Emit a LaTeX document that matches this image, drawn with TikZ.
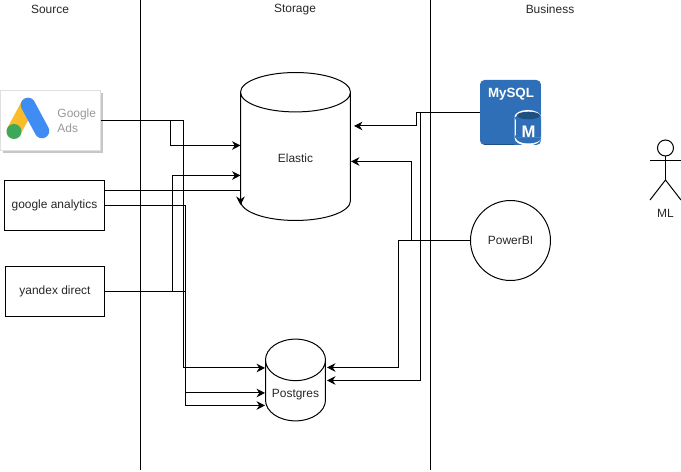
\documentclass[tikz,border=0pt]{standalone}
\usepackage{fontspec}
\setmainfont{Liberation Sans}
\usetikzlibrary{arrows.meta,positioning,shapes.geometric}
\definecolor{adsblue}{HTML}{3F8CF3}
\definecolor{adsyellow}{HTML}{FBBC2C}
\definecolor{adsgreen}{HTML}{3DA85A}
\definecolor{sqlblue}{HTML}{2E6FB7}
\definecolor{sqldark}{HTML}{1D4F80}

\begin{document}
\begin{tikzpicture}[x=0.02cm,y=-0.02cm,>={Stealth[length=4.8pt,width=4.8pt]},
 line width=0.567pt,
 every node/.style={font=\fontsize{6.8pt}{8.6pt}\selectfont,inner sep=0pt,text=black!85},
 source/.style={draw,minimum width=2cm,minimum height=1cm,align=center},
 store/.style={draw,cylinder,shape border rotate=90,anchor=shape center},
 conn/.style={->}]
\useasboundingbox (0,0) rectangle (681,472);

% columns
\coordinate (srctop) at (140.5,0); \coordinate (srcbot) at (140.5,470);
\coordinate (biztop) at (430.5,0); \coordinate (bizbot) at (430.5,470);
\draw (srctop)--(srcbot); \draw (biztop)--(bizbot);
\node (source) at (50,9.5) {Source};
\node (storage) at (295,10) {Storage};
\node (business) at (550,9.5) {Business};

% google ads card
\fill[black!22] (3,93) rectangle (103,153);
\node[draw=black!12,fill=white,minimum width=2cm,minimum height=1.2cm] (ads) at (50.5,120.5) {};
\node[text=black!40,align=left,anchor=west,font=\fontsize{6.8pt}{8.6pt}\selectfont] (adstext) at (57,120.5) {Google\\Ads};
\draw[adsyellow,line width=8.3pt,line cap=round] (14,131)--(28,105);
\draw[adsblue,line width=8.3pt,line cap=round] (28,105)--(42,131);
\fill[adsgreen] (14,131.5) circle (7.5);

\node[source] (analytics) at (54.5,205.5) {google analytics};
\node[source] (yandex) at (55,291.5) {yandex direct};

\node[store,minimum width=2.2cm,minimum height=2.96cm,shape aspect=1.12,text height=7.2pt] (elastic) at (295.5,146.5) {Elastic};
\node[store,minimum width=1.2cm,minimum height=1.6cm,shape aspect=0.88,text height=9.4pt] (postgres) at (295.5,380) {Postgres};

% mysql icon
\node[fill=sqlblue,rounded corners=2.6pt,minimum width=1.22cm,minimum height=1.3cm] (mysql) at (510.5,112.5) {};
\node[text=white,font=\bfseries\fontsize{7.6pt}{9pt}\selectfont] (mysqltext) at (511,94) {MySQL};
\draw[sqldark] (484,144.5)--(514,144.5);
\fill[white] (514.5,117) rectangle (541,138) (527.75,117) ellipse (13.25 and 7) (527.75,138) ellipse (13.25 and 7.5);
\fill[sqlblue] (516,117) rectangle (541,138) (528.5,138) ellipse (12.5 and 5.5) (528.5,117) ellipse (12.5 and 5);
\fill[sqldark] (528.5,115.5) ellipse (11.5 and 3.8);
\node[text=white,font=\bfseries\fontsize{9.5pt}{10pt}\selectfont] (mysqlm) at (528.5,132) {M};

\node[draw,circle,minimum size=1.6cm] (powerbi) at (510.5,240.5) {PowerBI};

% stick figure
\draw (665.5,148) circle (8);
\coordinate (mlneck) at (665.5,156); \coordinate (mlhip) at (665.5,180);
\draw (mlneck)--(mlhip); \draw (650,160.5)--(681,160.5);
\draw (650,200)--(mlhip)--(681,200);
\node (ml) at (665.5,213) {ML};

% ends on the stores
\coordinate (elasticA) at (240.5,145.5); \coordinate (elasticB) at (240.5,175.5);
\coordinate (elasticC) at (240.5,205); \coordinate (elasticD) at (351,161.5);
\coordinate (elasticE) at (354,126);
\coordinate (postgresA) at (265,368); \coordinate (postgresB) at (265,393);
\coordinate (postgresC) at (265,405.5); \coordinate (postgresD) at (327,367.5);
\coordinate (postgresE) at (327,380.5);
\coordinate (analyticsA) at (104.5,190.5);

\draw[conn] (ads.east) -| (170.5,145.5) -- (elasticA);
\draw[conn] (ads.east) -| (183,368) -- (postgresA);
\draw[conn] (analyticsA) -| (elasticC);
\draw[conn] (analytics.east) -| (185,393) -- (postgresB);
\draw[conn] (yandex.east) -| (172.5,175.5) -- (elasticB);
\draw[conn] (yandex.east) -| (185.5,405.5) -- (postgresC);
\draw[conn] (mysql.west) -| (416,126) -- (elasticE);
\draw[conn] (mysql.west) -| (420.5,380.5) -- (postgresE);
\draw[conn] (powerbi.west) -| (411,161.5) -- (elasticD);
\draw[conn] (powerbi.west) -| (398,367.5) -- (postgresD);
\end{tikzpicture}
\end{document}
